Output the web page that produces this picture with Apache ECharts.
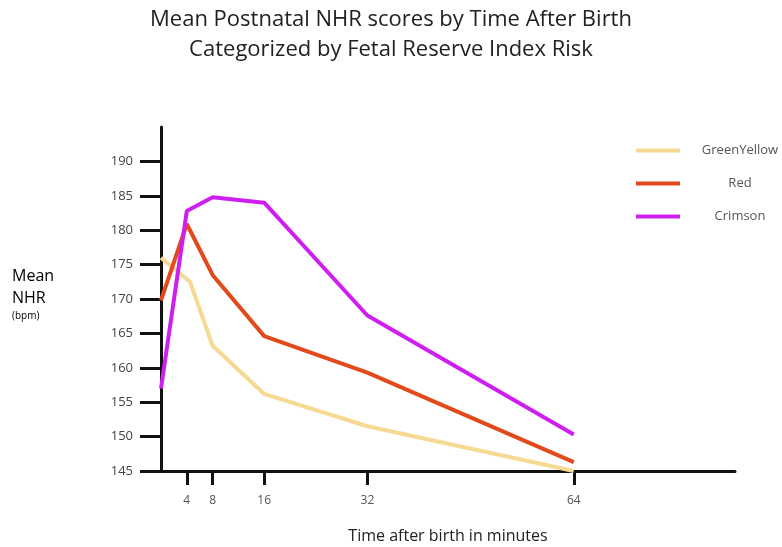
<!DOCTYPE html>
<html>
<head>
<meta charset="utf-8">
<script src="https://cdn.jsdelivr.net/npm/echarts@6/dist/echarts.min.js"></script>
<style>html,body{margin:0;padding:0;background:#fff}#c{width:782px;height:547px}</style>
</head>
<body>
<div id="c"></div>
<script>
var seriesNames = ['GreenYellow', 'Red', 'Crimson'];
var seriesColors = ['#f6d993', '#e24a1c', '#cf1ff0'];
var greenYellow = [[0, 176], [4.5, 172.5], [8, 163.2], [16, 156.2], [32, 151.5], [64, 145]];
var red = [[0, 169.8], [4, 180.9], [8, 173.5], [16, 164.6], [32, 159.3], [64, 146.3]];
var crimson = [[0, 157], [4, 182.8], [8, 184.8], [16, 184], [32, 167.6], [64, 150.3]];
var xTicks = [4, 8, 16, 32, 64];
var yTicks = [145, 150, 155, 160, 165, 170, 175, 180, 185, 190];
var allData = [greenYellow, red, crimson];

var chart = echarts.init(document.getElementById('c'), null, {renderer: 'canvas'});
var font = "'Open Sans', 'Noto Sans', sans-serif";
chart.setOption({
  animation: false,
  backgroundColor: '#fff',
  title: [{
    text: 'Mean Postnatal NHR scores by Time After Birth\nCategorized by Fetal Reserve Index Risk',
    left: 'center', top: 0,
    textStyle: {fontFamily: font, fontSize: 22, fontWeight: 'normal', color: '#222', lineHeight: 30}
  }],
  legend: {
    orient: 'vertical', left: 631, top: 139, itemGap: 20,
    itemWidth: 44, itemHeight: 4, icon: 'rect',
    formatter: function (n) { return '{c|' + n + '}'; },
    textStyle: {fontFamily: font, fontSize: 13, color: '#555', rich: {c: {width: 110, height: 15, align: 'center', fontSize: 13, fontFamily: font, color: '#555'}}},
    data: seriesNames
  },
  grid: {left: 161, right: 47, top: 127, bottom: 76, outerBoundsMode: 'none', containLabel: false},
  xAxis: {
    type: 'value', min: 0, max: 89,
    name: 'Time after birth in minutes', nameLocation: 'middle', nameGap: 57,
    nameTextStyle: {fontFamily: font, fontSize: 16, color: '#222'},
    axisLine: {show: true, onZero: false, lineStyle: {color: '#111', width: 3}},
    axisTick: {show: true, length: 14, customValues: xTicks, lineStyle: {color: '#111', width: 3}},
    axisLabel: {customValues: xTicks, margin: 24, fontFamily: font, fontSize: 12, color: '#555'},
    splitLine: {show: false}
  },
  yAxis: {
    type: 'value', min: 145, max: 195,
    axisLine: {show: true, lineStyle: {color: '#111', width: 3}},
    axisTick: {show: true, length: 21, customValues: yTicks, lineStyle: {color: '#111', width: 3}},
    axisLabel: {customValues: yTicks, margin: 28, fontFamily: font, fontSize: 13, color: '#444'},
    splitLine: {show: false}
  },
  graphic: [{
    type: 'text', left: 12, top: 268,
    style: {
      text: '{a|Mean}\n{a|NHR}\n{b|(bpm)}',
      rich: {
        a: {fontFamily: font, fontSize: 16, color: '#222', lineHeight: 22},
        b: {fontFamily: font, fontSize: 10, color: '#555', lineHeight: 14}
      }
    }
  }],
  series: seriesNames.map(function (n, i) {
    return {
      name: n, type: 'line', data: allData[i], showSymbol: false, symbol: 'none',
      color: seriesColors[i],
      lineStyle: {width: 4, color: seriesColors[i]},
      itemStyle: {color: seriesColors[i]}
    };
  })
});
</script>
</body>
</html>
